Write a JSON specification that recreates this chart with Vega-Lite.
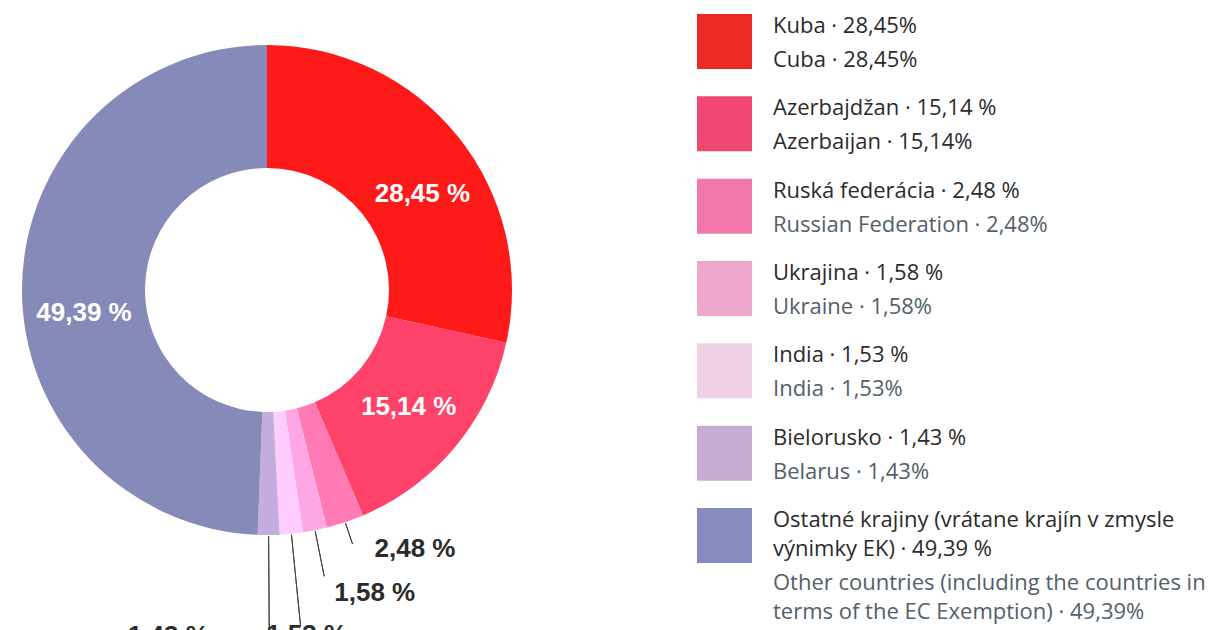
{
  "$schema": "https://vega.github.io/schema/vega-lite/v6.json",
  "padding": 0,
  "background": "white",
  "spacing": 163,
  "config": {"view": {"stroke": null}},
  "datasets": {
    "d": [
      {"n": 1, "name": "Kuba", "sk": "Kuba · 28,45%", "en": "Cuba · 28,45%", "v": 28.45, "lbl": "28,45 %"},
      {"n": 2, "name": "Azerbajdžan", "sk": "Azerbajdžan · 15,14 %", "en": "Azerbaijan · 15,14%", "v": 15.14, "lbl": "15,14 %"},
      {"n": 3, "name": "Ruská federácia", "sk": "Ruská federácia · 2,48 %", "en": "Russian Federation · 2,48%", "v": 2.48, "lbl": "2,48 %"},
      {"n": 4, "name": "Ukrajina", "sk": "Ukrajina · 1,58 %", "en": "Ukraine · 1,58%", "v": 1.58, "lbl": "1,58 %"},
      {"n": 5, "name": "India", "sk": "India · 1,53 %", "en": "India · 1,53%", "v": 1.53, "lbl": "1,53 %"},
      {"n": 6, "name": "Bielorusko", "sk": "Bielorusko · 1,43 %", "en": "Belarus · 1,43%", "v": 1.43, "lbl": "1,43 %"},
      {"n": 7, "name": "Ostatné krajiny", "sk": "Ostatné krajiny (vrátane krajín v zmysle\nvýnimky EK) · 49,39 %", "en": "Other countries (including the countries in\nterms of the EC Exemption) · 49,39%", "v": 49.39, "lbl": "49,39 %"}
    ]
  },
  "resolve": {"scale": {"color": "independent", "y": "independent", "x": "independent", "theta": "independent"}},
  "hconcat": [
    {
      "width": 534,
      "height": 580,
      "data": {"name": "d"},
      "encoding": {
        "theta": {"field": "v", "type": "quantitative", "stack": true},
        "order": {"field": "n", "type": "quantitative"}
      },
      "layer": [
        {
          "mark": {"type": "arc", "radius": 245, "radius2": 122},
          "encoding": {
            "color": {
              "field": "name", "type": "nominal", "legend": null,
              "scale": {
                "domain": ["Kuba", "Azerbajdžan", "Ruská federácia", "Ukrajina", "India", "Bielorusko", "Ostatné krajiny"],
                "range": ["#FF1A1A", "#FF4269", "#FF79B4", "#FFA6E4", "#FFCCFF", "#C3ADDE", "#858AB9"]
              }
            }
          }
        },
        {
          "mark": {"type": "arc", "radius": {"expr": "datum.n === 3 ? 268 : 246"}, "radius2": 246, "padAngle": 3, "stroke": "#444444", "strokeWidth": 1, "fillOpacity": 0},
          "encoding": {"strokeOpacity": {"condition": {"test": "datum.n === 3", "value": 1}, "value": 0}}
        },
        {
          "mark": {"type": "arc", "radius": {"expr": "datum.n === 4 ? 292 : 246"}, "radius2": 246, "padAngle": 3, "stroke": "#444444", "strokeWidth": 1, "fillOpacity": 0},
          "encoding": {"strokeOpacity": {"condition": {"test": "datum.n === 4", "value": 1}, "value": 0}}
        },
        {
          "mark": {"type": "arc", "radius": {"expr": "datum.n === 5 ? 338 : 246"}, "radius2": 246, "padAngle": 3, "stroke": "#444444", "strokeWidth": 1, "fillOpacity": 0},
          "encoding": {"strokeOpacity": {"condition": {"test": "datum.n === 5", "value": 1}, "value": 0}}
        },
        {
          "mark": {"type": "arc", "radius": {"expr": "datum.n === 6 ? 345 : 246"}, "radius2": 246, "padAngle": 3, "stroke": "#444444", "strokeWidth": 1, "fillOpacity": 0},
          "encoding": {"strokeOpacity": {"condition": {"test": "datum.n === 6", "value": 1}, "value": 0}}
        },
        {
          "mark": {"type": "text", "radius": {"expr": "datum.n === 1 ? 184 : 0"}, "dx": 12, "dy": 19, "font": "Liberation Sans", "fontWeight": "bold", "fontSize": 26, "color": "white", "align": "center", "baseline": "middle"},
          "encoding": {"text": {"condition": {"test": "datum.n === 1", "field": "lbl"}, "value": ""}}
        },
        {
          "mark": {"type": "text", "radius": {"expr": "datum.n === 2 ? 184 : 0"}, "font": "Liberation Sans", "fontWeight": "bold", "fontSize": 26, "color": "white", "align": "center", "baseline": "middle"},
          "encoding": {"text": {"condition": {"test": "datum.n === 2", "field": "lbl"}, "value": ""}}
        },
        {
          "mark": {"type": "text", "radius": {"expr": "datum.n === 7 ? 184 : 0"}, "dx": 1, "dy": 27, "font": "Liberation Sans", "fontWeight": "bold", "fontSize": 26, "color": "white", "align": "center", "baseline": "middle"},
          "encoding": {"text": {"condition": {"test": "datum.n === 7", "field": "lbl"}, "value": ""}}
        },
        {
          "mark": {"type": "text", "radius": {"expr": "datum.n === 3 ? 268 : 0"}, "dx": 22, "dy": 5, "font": "Liberation Sans", "fontWeight": "bold", "fontSize": 26, "color": "#2b2b2b", "align": "left", "baseline": "middle"},
          "encoding": {"text": {"condition": {"test": "datum.n === 3", "field": "lbl"}, "value": ""}}
        },
        {
          "mark": {"type": "text", "radius": {"expr": "datum.n === 4 ? 292 : 0"}, "dx": 10, "dy": 17, "font": "Liberation Sans", "fontWeight": "bold", "fontSize": 26, "color": "#2b2b2b", "align": "left", "baseline": "middle"},
          "encoding": {"text": {"condition": {"test": "datum.n === 4", "field": "lbl"}, "value": ""}}
        },
        {
          "mark": {"type": "text", "radius": {"expr": "datum.n === 5 ? 338 : 0"}, "dx": 6, "dy": 9, "font": "Liberation Sans", "fontWeight": "bold", "fontSize": 26, "color": "#2b2b2b", "align": "center", "baseline": "middle"},
          "encoding": {"text": {"condition": {"test": "datum.n === 5", "field": "lbl"}, "value": ""}}
        },
        {
          "mark": {"type": "text", "radius": {"expr": "datum.n === 6 ? 345 : 0"}, "dx": -101, "dy": 1, "font": "Liberation Sans", "fontWeight": "bold", "fontSize": 26, "color": "#2b2b2b", "align": "center", "baseline": "middle"},
          "encoding": {"text": {"condition": {"test": "datum.n === 6", "field": "lbl"}, "value": ""}}
        }
      ]
    },
    {
      "width": 517,
      "height": 580,
      "data": {"name": "d"},
      "encoding": {
        "y": {"field": "n", "type": "ordinal", "axis": null, "scale": {"range": [14, 563], "paddingInner": 0.332, "paddingOuter": 0}}
      },
      "layer": [
        {
          "mark": {"type": "rect"},
          "encoding": {
            "x": {"value": 0},
            "x2": {"value": 55},
            "color": {
              "field": "name", "type": "nominal", "legend": null,
              "scale": {
                "domain": ["Kuba", "Azerbajdžan", "Ruská federácia", "Ukrajina", "India", "Bielorusko", "Ostatné krajiny"],
                "range": ["#EE2A27", "#EF4770", "#F278AC", "#EDA7CA", "#F0D0E4", "#C4ACD3", "#868CBD"]
              }
            }
          }
        },
        {
          "mark": {"type": "text", "align": "left", "baseline": "alphabetic", "dy": 19, "font": "Open Sans", "fontSize": 22, "lineBreak": "\n", "lineHeight": 29, "color": "#2b2b2b"},
          "encoding": {
            "x": {"value": 76},
            "y": {"field": "n", "type": "ordinal", "bandPosition": 0},
            "text": {"field": "sk"}
          }
        },
        {
          "transform": [{"filter": "datum.n < 7"}],
          "mark": {"type": "text", "align": "left", "baseline": "alphabetic", "dy": 53, "font": "Open Sans", "fontSize": 22, "lineBreak": "\n", "lineHeight": 29},
          "encoding": {
            "x": {"value": 76},
            "y": {"field": "n", "type": "ordinal", "bandPosition": 0},
            "text": {"field": "en"},
            "color": {"condition": {"test": "datum.n <= 2", "value": "#2b2b2b"}, "value": "#52606a"}
          }
        },
        {
          "transform": [{"filter": "datum.n === 7"}],
          "mark": {"type": "text", "align": "left", "baseline": "alphabetic", "dy": 82, "font": "Open Sans", "fontSize": 22, "lineBreak": "\n", "lineHeight": 29, "color": "#52606a"},
          "encoding": {
            "x": {"value": 76},
            "y": {"field": "n", "type": "ordinal", "bandPosition": 0},
            "text": {"field": "en"}
          }
        }
      ]
    }
  ]
}
